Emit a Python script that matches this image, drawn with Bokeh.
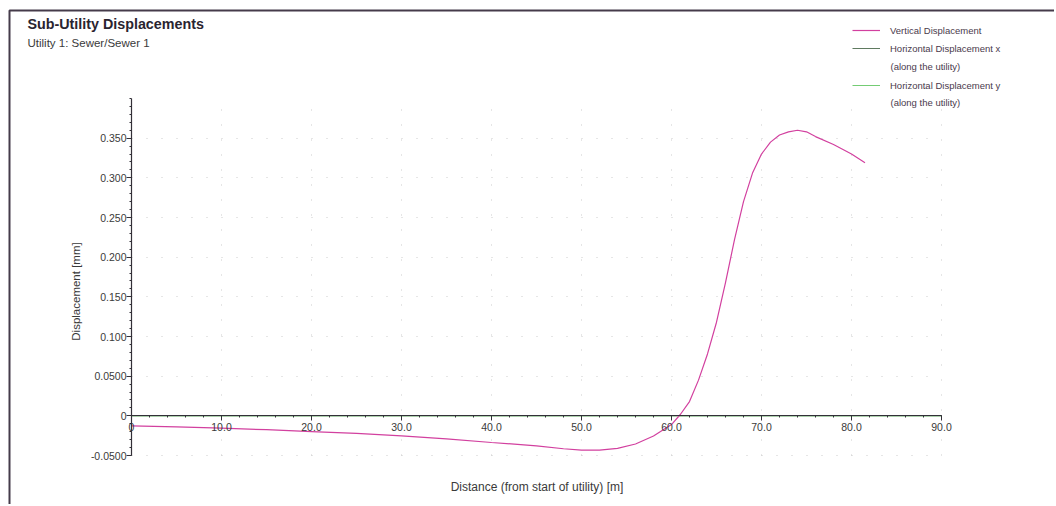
import math
from bokeh.plotting import figure
from bokeh.models import (Range1d, FixedTicker, Label, Legend, LegendItem,
                          BoxAnnotation, Grid)
from bokeh.embed import file_html
from bokeh.resources import INLINE

# ---- data ----
distance = [0, 5, 10, 15, 20, 25, 30, 35, 40, 45, 48, 50, 52, 54, 56, 58, 60, 61,
            62, 63, 64, 65, 66, 67, 68, 69, 70, 71, 72, 73, 74, 75, 76, 78, 80, 81.5]
vertical = [-0.0126, -0.014, -0.0155, -0.0175, -0.0198, -0.0222, -0.0252, -0.029,
            -0.0336, -0.0378, -0.0415, -0.0433, -0.0433, -0.041, -0.0355, -0.0255,
            -0.011, 0.002, 0.018, 0.045, 0.078, 0.118, 0.168, 0.222, 0.270, 0.306,
            0.330, 0.345, 0.354, 0.358, 0.360, 0.358, 0.352, 0.342, 0.330, 0.319]
horiz_distance = [0.0, 90.0]
horiz_x = [0.0, 0.0]
horiz_y = [0.0, 0.0]

x_ticks = [0, 10, 20, 30, 40, 50, 60, 70, 80, 90]
x_tick_labels = ["0", "10.0", "20.0", "30.0", "40.0", "50.0", "60.0", "70.0", "80.0", "90.0"]
y_ticks = [-0.05, 0.0, 0.05, 0.1, 0.15, 0.2, 0.25, 0.3, 0.35]
y_tick_labels = ["-0.0500", "0", "0.0500", "0.100", "0.150", "0.200", "0.250", "0.300", "0.350"]

X_MIN, X_MAX = 0, 90
Y_MIN, Y_MAX = -0.05, 0.4

# ---- layout (pixels) ----
W, H = 1054, 504
PX_X0, PX_X1 = 131, 941      # screen x of X_MIN / X_MAX
PX_Y1, PX_Y0 = 98, 455       # screen y of Y_MAX / Y_MIN
sx = (PX_X1 - PX_X0) / (X_MAX - X_MIN)
sy = (PX_Y0 - PX_Y1) / (Y_MAX - Y_MIN)
x_start = X_MIN - PX_X0 / sx
x_end = x_start + W / sx
y_end = Y_MAX + PX_Y1 / sy
y_start = y_end - H / sy


def xd(px):
    return x_start + px / sx


def yd(py):
    return y_end - py / sy


FONT = "Liberation Sans"
TXT = "#3a3a3a"

p = figure(width=W, height=H, output_backend="svg", toolbar_location=None,
           x_range=Range1d(x_start, x_end), y_range=Range1d(y_start, y_end),
           min_border_left=0, min_border_right=0, min_border_top=0,
           min_border_bottom=0)
p.outline_line_color = None
p.background_fill_color = "white"
p.border_fill_color = "white"

# page border of the scanned report
p.add_layout(BoxAnnotation(left=xd(9), top=yd(10), right=x_end + 20, bottom=y_start - 1,
                           fill_alpha=0, line_color="#453b4a", line_alpha=1.0,
                           line_width=2))

# grid (dotted, faint, limited to the plot area)
p.xgrid.ticker = FixedTicker(ticks=x_ticks)
p.ygrid.ticker = FixedTicker(ticks=y_ticks)
grid_color = "#cccccc"
if "cross_bounds" in Grid.properties():
    p.xgrid.cross_bounds = (Y_MIN, Y_MAX)
    p.ygrid.cross_bounds = (X_MIN, X_MAX)
    p.xgrid.bounds = (X_MIN, X_MAX)
    p.ygrid.bounds = (Y_MIN, Y_MAX)
    p.grid.grid_line_color = grid_color
    p.grid.grid_line_dash = "1 14"
else:
    p.grid.visible = False
    p.segment(x0=x_ticks, y0=[Y_MIN] * len(x_ticks), x1=x_ticks, y1=[Y_MAX] * len(x_ticks),
              line_color=grid_color, line_dash="1 14")
    p.segment(x0=[X_MIN] * len(y_ticks), y0=y_ticks, x1=[X_MAX] * len(y_ticks), y1=y_ticks,
              line_color=grid_color, line_dash="1 14")

# axes
p.xaxis.fixed_location = 0
p.xaxis.bounds = (X_MIN, X_MAX)
p.yaxis.fixed_location = 0
p.yaxis.bounds = (Y_MIN, Y_MAX)
p.xaxis.ticker = FixedTicker(ticks=x_ticks, minor_ticks=[i * 2 for i in range(46)])
p.xaxis.major_label_overrides = {t: l for t, l in zip(x_ticks, x_tick_labels)}
p.yaxis.ticker = FixedTicker(ticks=y_ticks,
                             minor_ticks=[round(-0.05 + 0.01 * i, 2) for i in range(46)])
p.yaxis.major_label_overrides = {t: l for t, l in zip(y_ticks, y_tick_labels)}
for ax in (p.xaxis, p.yaxis):
    ax.axis_line_color = "#333038"
    ax.axis_line_width = 1.2
    ax.major_tick_line_color = "#333038"
    ax.minor_tick_line_color = "#333038"
    ax.major_tick_out = 5
    ax.major_tick_in = 0
    ax.minor_tick_out = 2
    ax.minor_tick_in = 0
    ax.major_label_text_font = FONT
    ax.major_label_text_font_size = "10.5px"
    ax.major_label_text_color = TXT
p.xaxis.major_label_standoff = 2
p.yaxis.major_label_standoff = 0

# series
r_hx = p.line(horiz_distance, horiz_x, line_color="#5f7a60", line_width=1)
r_hy = p.line(horiz_distance, horiz_y, line_color="#74cc74", line_width=1)
r_v = p.line(distance, vertical, line_color="#d2409f", line_width=1.2)

# legend: one entry per block, second text lines as labels
LEG_COLOR = "#4a3a4c"
entries = [("Vertical Displacement", r_v, 30),
           ("Horizontal Displacement x", r_hx, 48),
           ("Horizontal Displacement y", r_hy, 85)]
for label, rend, cy in entries:
    lg = Legend(items=[LegendItem(label=label, renderers=[rend])],
                location=(852, H - (cy + 7)))
    lg.label_text_font = FONT
    lg.label_text_font_size = "9.5px"
    lg.label_text_color = LEG_COLOR
    lg.glyph_width = 28
    lg.glyph_height = 14
    lg.label_height = 14
    lg.label_standoff = 10
    lg.padding = 0
    lg.margin = 0
    lg.border_line_alpha = 0
    lg.background_fill_alpha = 0
    p.add_layout(lg, "center")

for cy in (65.7, 101.7):
    p.add_layout(Label(x=xd(890), y=yd(cy), text="(along the utility)",
                       text_font=FONT, text_font_size="9.5px", text_color=LEG_COLOR,
                       text_baseline="middle", text_align="left"))

# texts
p.add_layout(Label(x=xd(27), y=yd(23), text="Sub-Utility Displacements",
                   text_font=FONT, text_font_size="14.3px", text_font_style="bold",
                   text_color="#2a2430", text_baseline="middle", text_align="left"))
p.add_layout(Label(x=xd(27), y=yd(42.7), text="Utility 1: Sewer/Sewer 1",
                   text_font=FONT, text_font_size="11.5px", text_color=TXT,
                   text_baseline="middle", text_align="left"))
p.add_layout(Label(x=xd(536.5), y=yd(486), text="Distance (from start of utility) [m]",
                   text_font=FONT, text_font_size="12px", text_color=TXT,
                   text_baseline="middle", text_align="center"))
p.add_layout(Label(x=xd(75), y=yd(291), text="Displacement [mm]", angle=math.pi / 2,
                   text_font=FONT, text_font_size="11.5px", text_color=TXT,
                   text_baseline="middle", text_align="center"))

open("out.html", "w").write(file_html(p, INLINE))
